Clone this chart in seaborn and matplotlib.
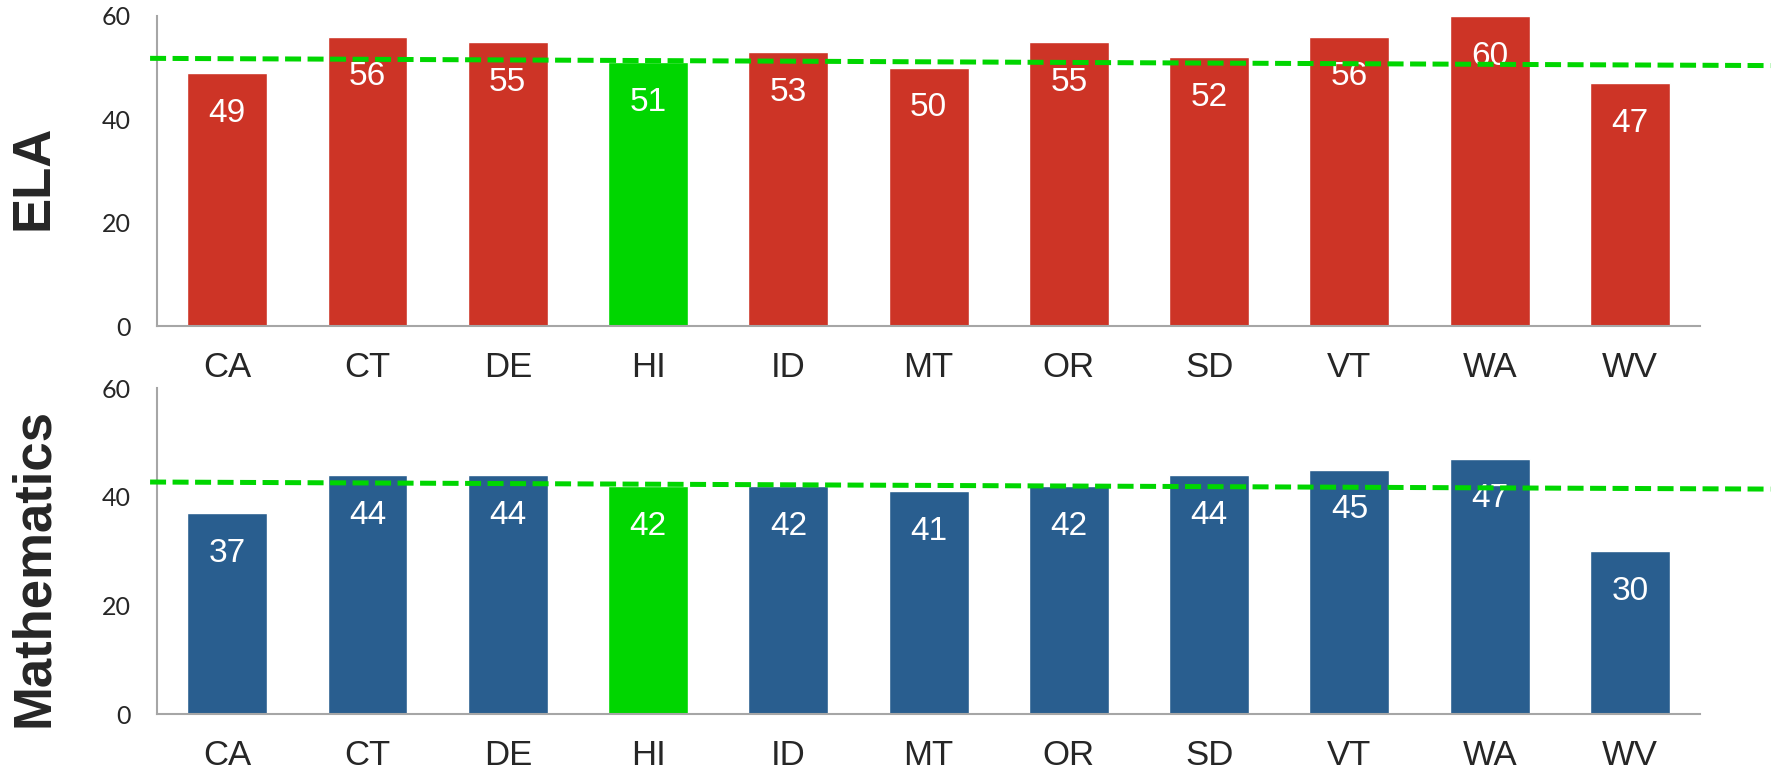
import matplotlib
matplotlib.use('Agg')
import pandas as pd
import seaborn as sns
import matplotlib.pyplot as plt

# Dados
states = ['CA', 'CT', 'DE', 'HI', 'ID', 'MT', 'OR', 'SD', 'VT', 'WA', 'WV']
ela = [49, 56, 55, 51, 53, 50, 55, 52, 56, 60, 47]
math = [37, 44, 44, 42, 42, 41, 42, 44, 45, 47, 30]
highlight = 'HI'
# linha de referencia (inicio, fim), levemente inclinada no original
ela_ref = [51.8, 50.4]
math_ref = [42.7, 41.4]

red = '#CD3426'
blue = '#295E8F'
green = '#00D600'

sns.set_style('white')
plt.rcParams['font.family'] = ['Liberation Sans', 'DejaVu Sans']

fig = plt.figure(figsize=(17.71, 7.79), dpi=100)
ax_top = fig.add_axes([0.0887, 0.5815, 0.8713, 0.398])
ax_bot = fig.add_axes([0.0887, 0.0834, 0.8713, 0.4185])

panels = [
    (ax_top, ela, red, ela_ref, 'ELA'),
    (ax_bot, math, blue, math_ref, 'Mathematics'),
]

for ax, vals, color, ref, label in panels:
    df = pd.DataFrame({'state': states, 'value': vals})
    pal = {s: (green if s == highlight else color) for s in states}
    sns.barplot(data=df, x='state', y='value', hue='state', palette=pal,
                legend=False, width=0.57, saturation=1, ax=ax)
    ax.set_xlim(-0.5, 10.5)
    ax.set_ylim(0, 60)
    ax.set_yticks([0, 20, 40, 60])
    ax.tick_params(axis='y', length=0, pad=19, labelsize=18)
    ax.tick_params(axis='x', length=0, pad=18, labelsize=25)
    for t in ax.get_yticklabels():
        t.set_fontfamily('Lato')
    for side in ['top', 'right']:
        ax.spines[side].set_visible(False)
    for side in ['left', 'bottom']:
        ax.spines[side].set_color('#A6A6A6')
        ax.spines[side].set_linewidth(1.5)
    ax.set_xlabel('')
    ax.set_ylabel('')

    # rotulos dentro das barras
    for i, v in enumerate(vals):
        ax.annotate(str(v), (i, v), xytext=(0, -29), textcoords='offset points',
                    ha='center', va='center', color='white', fontsize=24)

    # linha tracejada de referencia
    ax.plot([-0.55, 11.0], ref, color=green, lw=3.6, ls=(0, (3.2, 1.3)),
            clip_on=False, zorder=5)

fig.text(0.019, 0.772, 'ELA', rotation=90, ha='center', va='center',
         fontsize=38, fontweight='bold')
fig.text(0.019, 0.272, 'Mathematics', rotation=90, ha='center', va='center',
         fontsize=38, fontweight='bold')

plt.savefig('out.png', dpi=100)
